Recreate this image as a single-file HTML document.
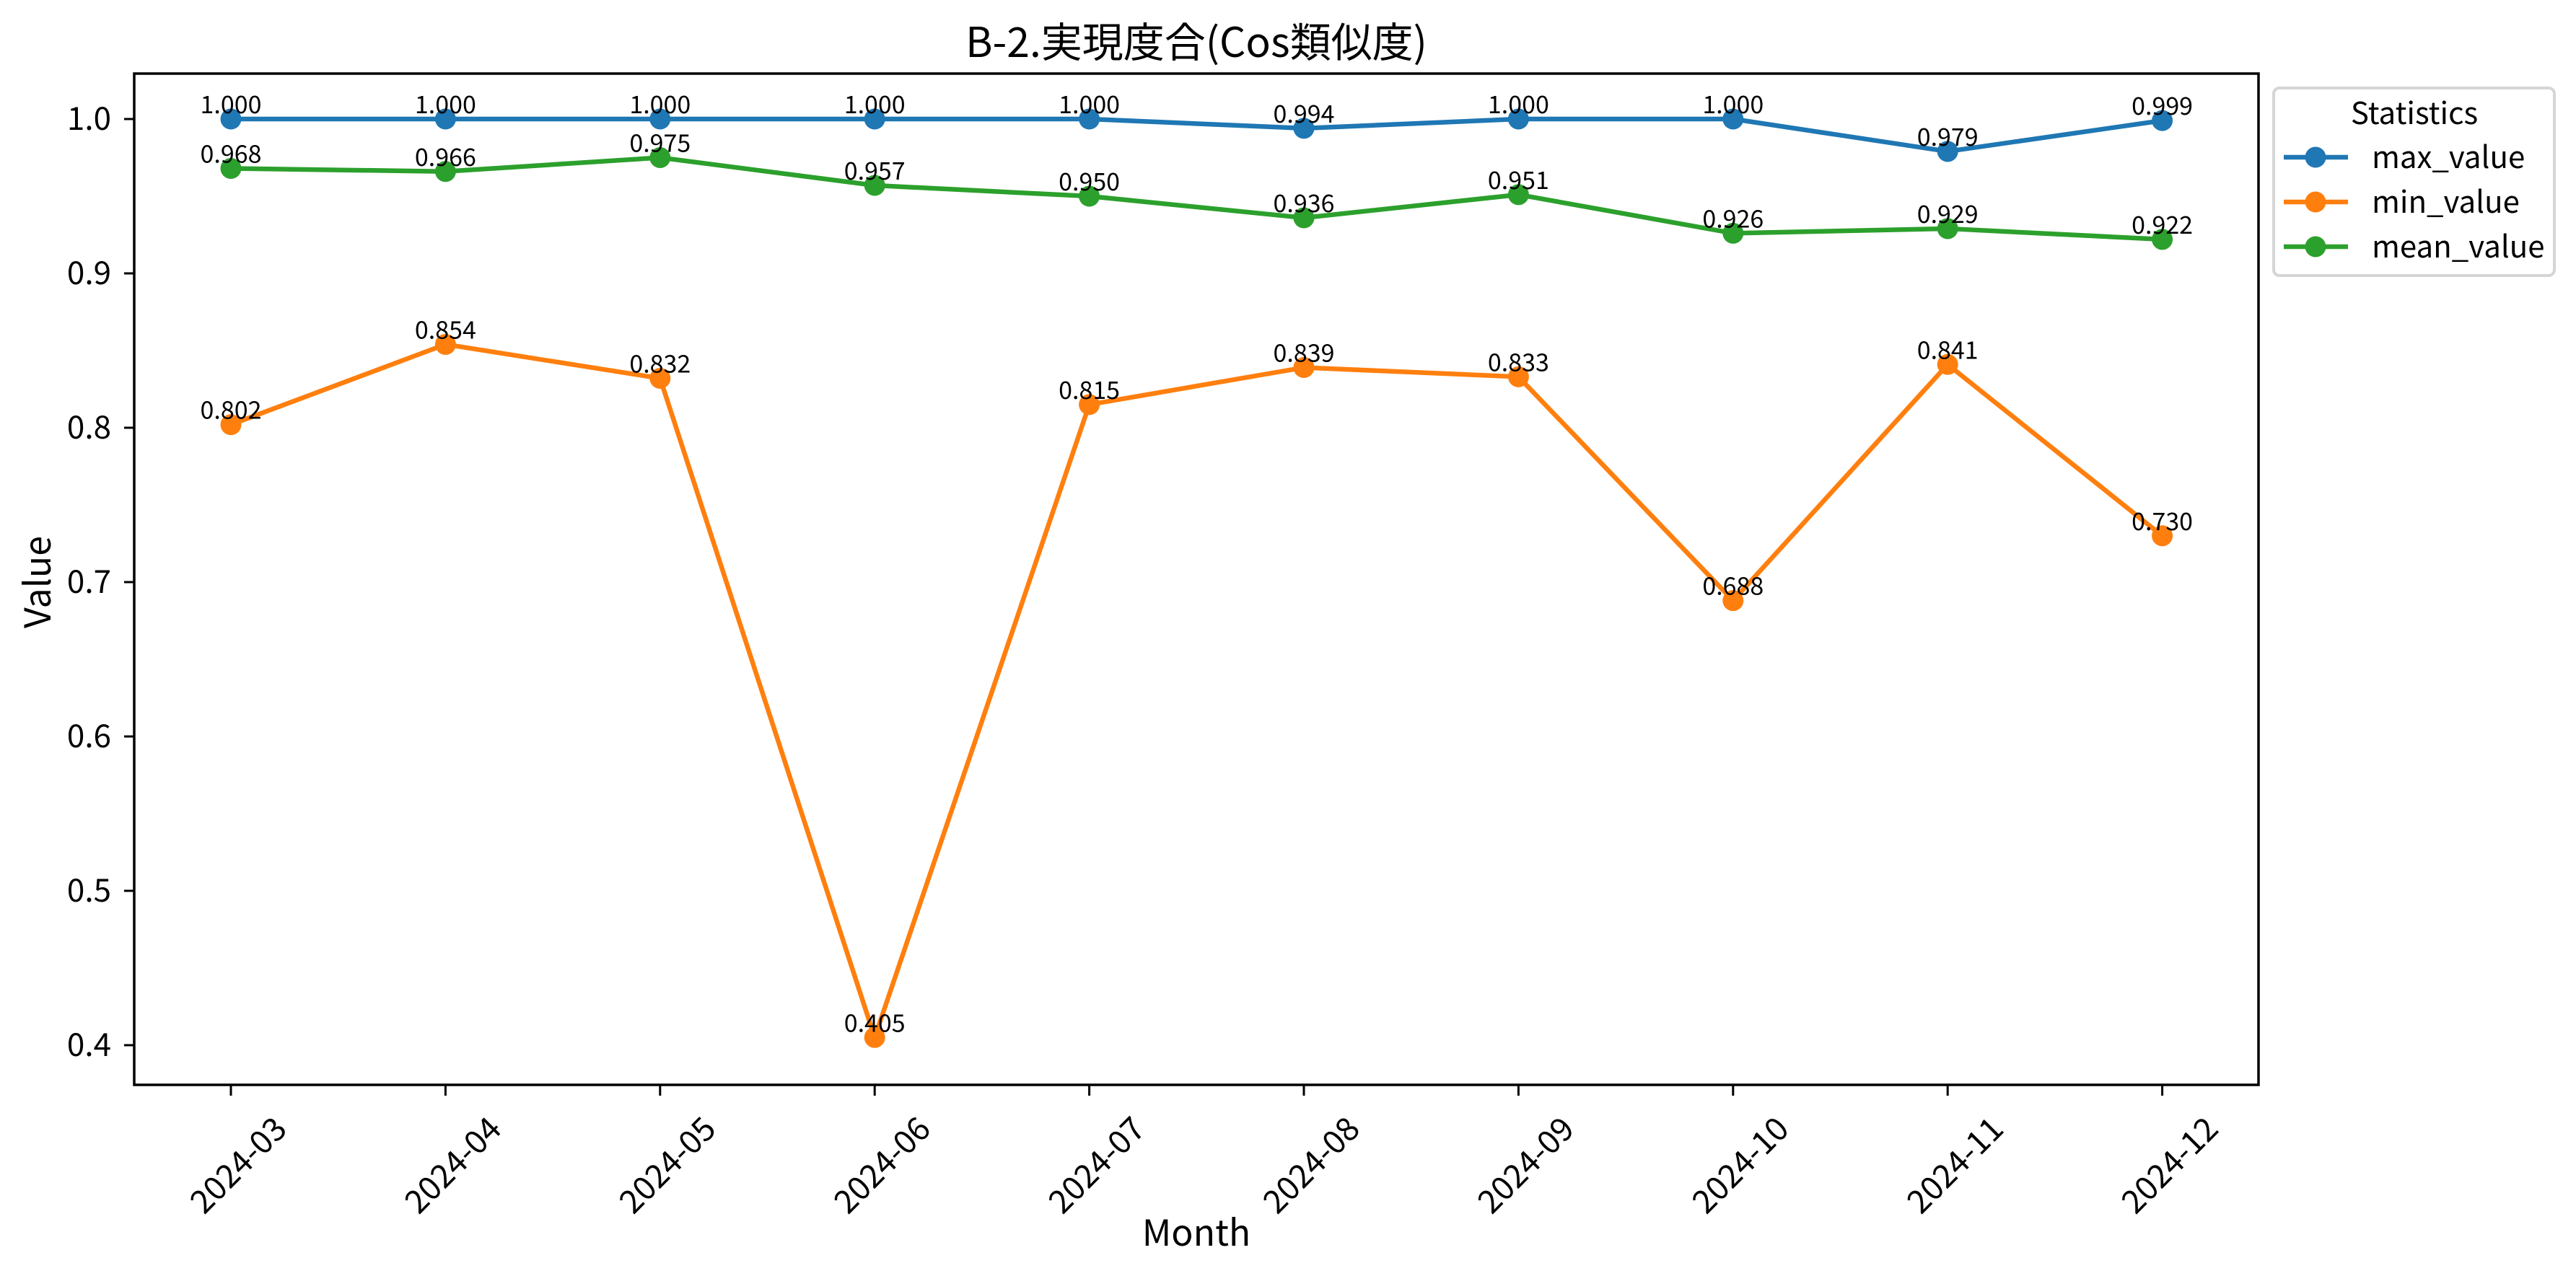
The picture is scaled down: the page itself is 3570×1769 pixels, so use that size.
<!DOCTYPE html>
<html><head><meta charset="utf-8"><style>
html,body{margin:0;padding:0;background:#fff;}
svg{display:block;font-family:"Liberation Sans","Noto Sans CJK JP",sans-serif;}
text{font-family:"Noto Sans CJK JP","Liberation Sans",sans-serif;}
</style></head><body>
<svg id="chart" width="3570" height="1769" viewBox="0 0 3570 1769" xmlns="http://www.w3.org/2000/svg">
<rect width="3570" height="1769" fill="#fff"/>
<text x="1658" y="79" font-size="57" text-anchor="middle">B-2.実現度合(Cos類似度)</text>
<g id="plot"></g>
<text x="1658" y="1727" font-size="50" text-anchor="middle">Month</text>
<text transform="translate(70,807) rotate(-90)" font-size="50" text-anchor="middle">Value</text>
<g>
<rect x="3151" y="122" width="389" height="260" rx="8" fill="#fff" stroke="#d5d5d5" stroke-width="4"/>
<text x="3346" y="172" font-size="42" text-anchor="middle">Statistics</text>
<g id="legend-entries"></g>
</g>
</svg>
<script>
const categories=["2024-03","2024-04","2024-05","2024-06","2024-07","2024-08","2024-09","2024-10","2024-11","2024-12"];
const maxValues=[1.000,1.000,1.000,1.000,1.000,0.994,1.000,1.000,0.979,0.999];
const minValues=[0.802,0.854,0.832,0.405,0.815,0.839,0.833,0.688,0.841,0.730];
const meanValues=[0.968,0.966,0.975,0.957,0.950,0.936,0.951,0.926,0.929,0.922];
const yTicks=[0.4,0.5,0.6,0.7,0.8,0.9,1.0];
const seriesNames=["max_value","min_value","mean_value"];

const NS="http://www.w3.org/2000/svg";
const L=186,R=3130,T=102,B=1504;
const x0=320,dx=297.4;
function xs(i){return x0+i*dx;}
function ys(v){return 165+(1.0-v)*2140;}
function el(tag,attrs,parent){const e=document.createElementNS(NS,tag);for(const k in attrs)e.setAttribute(k,attrs[k]);parent.appendChild(e);return e;}
const plot=document.getElementById('plot');
const colors=["#1f77b4","#ff7f0e","#2ca02c"];
const all=[maxValues,minValues,meanValues];

yTicks.forEach(v=>{
  const t=el('line',{x1:172,x2:L,y1:ys(v),y2:ys(v),stroke:'#000','stroke-width':3},plot);
  
  
  const lb=el('text',{x:154,y:ys(v)+15,'font-size':44,'text-anchor':'end'},plot);
  lb.textContent=v.toFixed(1);
  
  
});
categories.forEach((c,i)=>{
  const t=el('line',{x1:xs(i),x2:xs(i),y1:B,y2:B+15,stroke:'#000','stroke-width':3},plot);
  
  
  const lb=el('text',{transform:`translate(${xs(i)+80},1568) rotate(-45)`,'font-size':45,'text-anchor':'end'},plot);
  lb.textContent=c;
  
  
});
all.forEach((vals,s)=>{
  const g=el('g',{},plot);
  
  
  const pts=vals.map((v,i)=>xs(i)+','+ys(v)).join(' ');
  const pl=el('polyline',{points:pts,fill:'none',stroke:colors[s],'stroke-width':6.5,'stroke-linejoin':'round'},g);
  
  
  vals.forEach((v,i)=>{
    const c=el('circle',{cx:xs(i),cy:ys(v),r:14.5,fill:colors[s]},g);
    
    
  });
});
all.forEach((vals,s)=>{
  vals.forEach((v,i)=>{
    const lb=el('text',{x:xs(i),y:ys(v)-8,'font-size':34,'text-anchor':'middle'},plot);
    lb.textContent=v.toFixed(3);
    
    
  });
});
const fr=el('rect',{x:L,y:T,width:R-L,height:B-T,fill:'none',stroke:'#000','stroke-width':3.5},plot);


const le=document.getElementById('legend-entries');
seriesNames.forEach((n,s)=>{
  const y=218+s*62;
  const g=el('g',{},le);
  
  
  el('line',{x1:3165,x2:3254,y1:y,y2:y,stroke:colors[s],'stroke-width':6.5},g);
  el('circle',{cx:3209,cy:y,r:14.5,fill:colors[s]},g);
  const t=el('text',{x:3287,y:y+15,'font-size':42},g);
  t.textContent=n;
});
</script>
</body></html>
